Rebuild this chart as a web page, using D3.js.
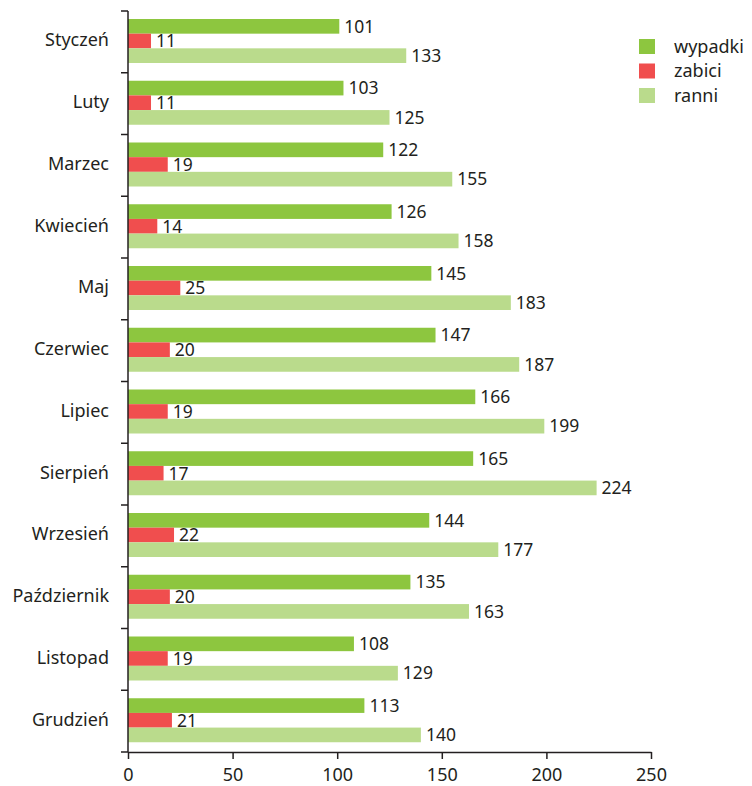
<!DOCTYPE html>
<html>
<head>
<meta charset="utf-8">
<script src="https://cdn.jsdelivr.net/npm/d3@7"></script>
<style>
  body { margin: 0; background: #fff; }
  svg text { font-family: "Noto Sans", "Open Sans", sans-serif; fill: #231f20; }
</style>
</head>
<body>
<div id="chart"></div>
<script>
const months = ['Styczeń', 'Luty', 'Marzec', 'Kwiecień', 'Maj', 'Czerwiec', 'Lipiec',
  'Sierpień', 'Wrzesień', 'Październik', 'Listopad', 'Grudzień'];
const seriesNames = ['wypadki', 'zabici', 'ranni'];
const wypadki = [101, 103, 122, 126, 145, 147, 166, 165, 144, 135, 108, 113];
const zabici = [11, 11, 19, 14, 25, 20, 19, 17, 22, 20, 19, 21];
const ranni = [133, 125, 155, 158, 183, 187, 199, 224, 177, 163, 129, 140];
const xTicks = [0, 50, 100, 150, 200, 250];

const colors = ['#8dc63f', '#f04e4e', '#badb8c'];
const width = 752, height = 786;

const svg = d3.select('#chart').append('svg')
  .attr('width', width)
  .attr('height', height);

const x = d3.scaleLinear().domain([0, 250]).range([128, 651]);
const y = d3.scaleBand().domain(months).range([11, 752]);
const ySub = d3.scaleBand().domain(seriesNames).range([8, 52]);

const values = [wypadki, zabici, ranni];

// bars
const groups = svg.selectAll('.month')
  .data(months)
  .enter()
  .append('g')
  .attr('class', 'month')
  .attr('transform', d => `translate(0,${y(d)})`);

seriesNames.forEach((s, si) => {
  groups.append('rect')
    .attr('x', x(0))
    .attr('y', ySub(s))
    .attr('height', ySub.bandwidth())
    .attr('width', (d, i) => x(values[si][i]) - x(0))
    .attr('fill', colors[si]);

  groups.append('text')
    .attr('x', (d, i) => x(values[si][i]) + 5)
    .attr('y', ySub(s) + ySub.bandwidth() / 2)
    .attr('dy', '0.36em')
    .attr('font-size', 17.5)
    .text((d, i) => values[si][i]);
});

// y axis
const yAxis = svg.append('g');
yAxis.append('line')
  .attr('x1', x(0)).attr('x2', x(0))
  .attr('y1', y.range()[0]).attr('y2', y.range()[1])
  .attr('stroke', '#231f20').attr('stroke-width', 1.5);
yAxis.selectAll('.ytick')
  .data(months.map(m => y(m)).concat([y.range()[1]]))
  .enter()
  .append('line')
  .attr('x1', x(0) - 7).attr('x2', x(0))
  .attr('y1', d => d).attr('y2', d => d)
  .attr('stroke', '#231f20').attr('stroke-width', 1.5);
yAxis.selectAll('.ylabel')
  .data(months)
  .enter()
  .append('text')
  .attr('x', 109)
  .attr('y', d => y(d) + y.bandwidth() / 2 - 2)
  .attr('dy', '0.36em')
  .attr('text-anchor', 'end')
  .attr('font-size', 18)
  .text(d => d);

// x axis
const xAxis = svg.append('g')
  .attr('transform', `translate(0,${y.range()[1]})`)
  .call(d3.axisBottom(x).tickValues(xTicks).tickSize(7).tickSizeOuter(0));
xAxis.select('.domain').attr('stroke', '#231f20').attr('stroke-width', 1.5);
xAxis.selectAll('.tick line').attr('stroke', '#231f20').attr('stroke-width', 1.5);
xAxis.selectAll('.tick text')
  .attr('font-size', 18)
  .attr('y', 16)
  .attr('font-family', '"Noto Sans", sans-serif')
  .attr('fill', '#231f20');

// legend
const legend = svg.selectAll('.legend')
  .data(seriesNames)
  .enter()
  .append('g')
  .attr('class', 'legend')
  .attr('transform', (d, i) => `translate(639,${39 + i * 24.5})`);
legend.append('rect')
  .attr('width', 16).attr('height', 15)
  .attr('fill', (d, i) => colors[i]);
legend.append('text')
  .attr('x', 35).attr('y', 7.5)
  .attr('dy', '0.36em')
  .attr('font-size', 18)
  .text(d => d);
</script>
</body>
</html>
